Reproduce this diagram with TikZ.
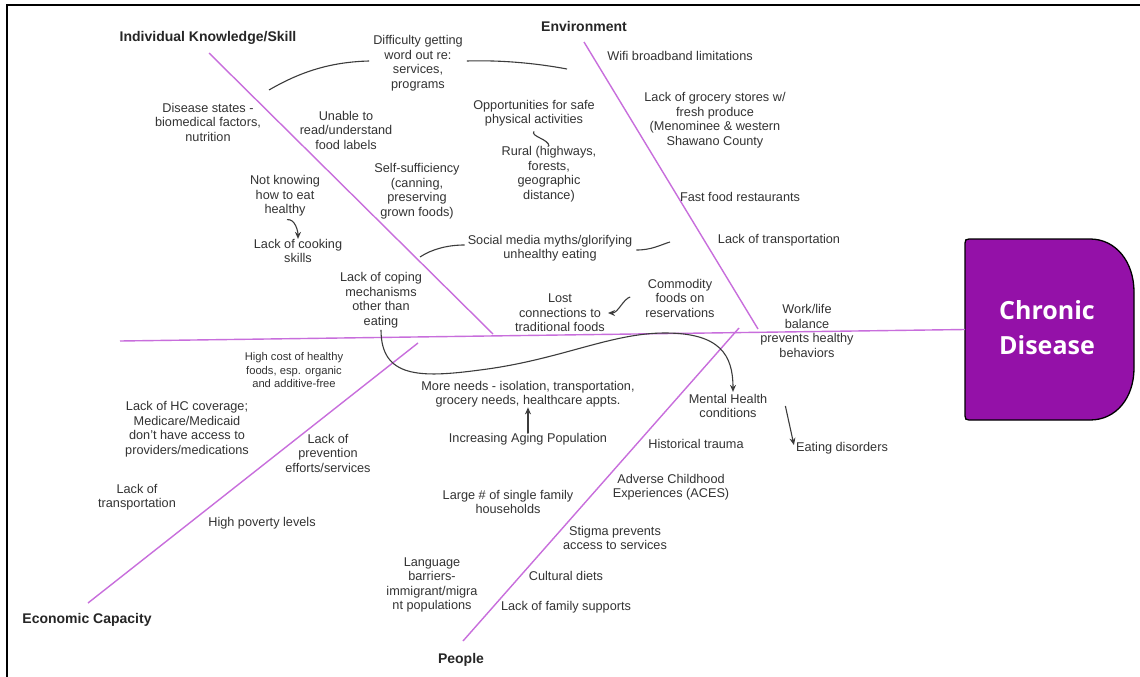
\documentclass[tikz,border=0pt]{standalone}
\usepackage{fontspec}
\setmainfont{Liberation Sans}
\newfontfamily\cdfont{Open Sans}
\usetikzlibrary{arrows.meta}
\definecolor{bone}{RGB}{200,110,220}
\definecolor{cdpurple}{RGB}{148,17,168}
\definecolor{txt}{RGB}{51,51,51}
\definecolor{conncol}{RGB}{60,60,60}
\tikzset{
  lbl/.style={align=center, inner sep=0pt, text=txt, font=\fontsize{12.7}{14.5}\selectfont},
  smalllbl/.style={align=center, inner sep=0pt, text=txt, font=\fontsize{11.2}{13.5}\selectfont},
  hdr/.style={inner sep=0pt, text=black!85, font=\fontsize{14}{16}\selectfont\bfseries},
  bonel/.style={draw=bone, line width=1.4pt},
  conn/.style={draw=conncol, line width=1.1pt},
  arr/.style={conn, -{Stealth[length=7pt,width=6pt]}},
}
\begin{document}
\begin{tikzpicture}[x=1pt,y=-1pt]
\useasboundingbox (0,0) rectangle (1140,677);
\fill[white] (0,0) rectangle (1140,677);
% frame
\draw[line width=2pt] (7,677) -- (7,5) -- (1140,5);

% head box
\filldraw[fill=cdpurple, draw=black, line width=1.3pt]
  (969,239) -- (1090,239) .. controls (1116,239) and (1134,262) .. (1134,292)
  -- (1134,368) .. controls (1134,398) and (1116,420) .. (1090,420)
  -- (969,420) .. controls (966,420) and (965,419) .. (965,416)
  -- (965,243) .. controls (965,240) and (966,239) .. (969,239) -- cycle;
\node[font=\cdfont\bfseries\fontsize{25}{35}\selectfont, text=white, align=center, inner sep=0pt] (cd) at (1047,328) {Chronic\\Disease};

% bones
\coordinate (spL) at (120,341);
\coordinate (spR) at (965,329.5);
\coordinate (indA) at (209,53);  \coordinate (indB) at (493,334);
\coordinate (envA) at (584,42);  \coordinate (envB) at (758,329);
\coordinate (ecoA) at (88,603);  \coordinate (ecoB) at (418,343);
\coordinate (peoA) at (463,641); \coordinate (peoB) at (739,328);
\draw[bonel] (spL) -- (spR);
\draw[bonel] (indA) -- (indB);
\draw[bonel] (envA) -- (envB);
\draw[bonel] (ecoA) -- (ecoB);
\draw[bonel] (peoA) -- (peoB);

% headers
\node[hdr] (ind) at (208,38) {Individual Knowledge/Skill};
\node[hdr] (env) at (584,26) {Environment};
\node[hdr] (eco) at (87,620) {Economic Capacity};
\node[hdr] (peo) at (461,660) {People};

% labels
\node[lbl] (diff) at (418,63) {Difficulty getting\\word out re:\\services,\\programs};
\node[lbl] (dis) at (208,122) {Disease states -\\biomedical factors,\\nutrition};
\node[lbl] (unable) at (346,130) {Unable to\\read/understand\\food labels};
\node[lbl] (notk) at (285,196) {Not knowing\\how to eat\\healthy};
\node[lbl] (cook) at (298,251) {Lack of cooking\\skills};
\node[lbl] (coping) at (381,300) {Lack of coping\\mechanisms\\other than\\eating};
\node[lbl] (self) at (417,191) {Self-sufficiency\\(canning,\\preserving\\grown foods)};
\node[lbl] (opp) at (534,113) {Opportunities for safe\\physical activities};
\node[lbl] (rural) at (549,174) {Rural (highways,\\forests,\\geographic\\distance)};
\node[lbl] (social) at (550,248) {Social media myths/glorifying\\unhealthy eating};
\node[lbl] (lost) at (560,313) {Lost\\connections to\\traditional foods};
\node[lbl] (comm) at (680,298) {Commodity\\foods on\\reservations};
\node[lbl] (wifi) at (680,56) {Wifi broadband limitations};
\node[lbl] (groc) at (715,120) {Lack of grocery stores w/\\fresh produce\\(Menominee \& western\\Shawano County};
\node[lbl] (fast) at (740,197) {Fast food restaurants};
\node[lbl] (trans1) at (779,240) {Lack of transportation};
\node[lbl] (work) at (807,331) {Work/life\\balance\\prevents healthy\\behaviors};
\node[smalllbl] (cost) at (294,370) {High cost of healthy\\foods, esp. organic\\and additive-free};
\node[lbl] (hc) at (187,429) {Lack of HC coverage;\\Medicare/Medicaid\\don't have access to\\providers/medications};
\node[lbl] (prev) at (328,453) {Lack of\\prevention\\efforts/services};
\node[lbl] (trans2) at (137,497) {Lack of\\transportation};
\node[lbl] (pov) at (262,523) {High poverty levels};
\node[lbl] (more) at (528,394) {More needs - isolation, transportation,\\grocery needs, healthcare appts.};
\node[lbl] (aging) at (528,439) {Increasing Aging Population};
\node[lbl] (mental) at (728,406) {Mental Health\\conditions};
\node[lbl] (eat) at (842,448) {Eating disorders};
\node[lbl] (hist) at (696,444) {Historical trauma};
\node[lbl] (aces) at (671,487) {Adverse Childhood\\Experiences (ACES)};
\node[lbl] (large) at (508,502) {Large \# of single family\\households};
\node[lbl] (stigma) at (615,538) {Stigma prevents\\access to services};
\node[lbl] (lang) at (432,585) {Language\\barriers-\\immigrant/migra\\nt populations};
\node[lbl] (cult) at (566,576) {Cultural diets};
\node[lbl] (fam) at (566,607) {Lack of family supports};

% connectors
\coordinate (dl) at (269,90);
\coordinate (dr) at (567,69);
\draw[conn] ([xshift=-4pt,yshift=2pt]diff.west) .. controls (330,62) and (300,72) .. (dl);
\draw[conn] ([xshift=4pt,yshift=2pt]diff.east) .. controls (500,60) and (535,63) .. (dr);
\draw[conn] ([yshift=-5pt]opp.south) .. controls +(-4,5) and +(0,-7) .. (rural.north);
\coordinate (sl) at (420,257);
\coordinate (sr) at (670,242);
\draw[conn] ([xshift=-3pt,yshift=3pt]social.west) .. controls (448,245) and (432,249) .. (sl);
\draw[conn] ([xshift=4pt,yshift=-2pt]social.east) .. controls (652,250) and (660,245) .. (sr);
\draw[arr] ([xshift=2pt,yshift=-3pt]notk.south) .. controls +(8,-1) and +(0,-8) .. (cook.north);
\draw[arr] ([xshift=-15pt,yshift=1pt]comm.west) .. controls +(-7,2) and +(10,0) .. ([xshift=3pt]lost.east);
\draw[arr] ([yshift=-2pt]coping.south) .. controls (381,378) and (420,378) .. (480,370)
  .. controls (560,360) and (610,333) .. (665,333)
  .. controls (720,333) and (733,355) .. ([xshift=5pt,yshift=2pt]mental.north);
\draw[arr] (aging.north) -- (more.south);
\draw[arr] ([xshift=18pt]mental.east) -- ([xshift=-2pt,yshift=3pt]eat.west);
\end{tikzpicture}
\end{document}
